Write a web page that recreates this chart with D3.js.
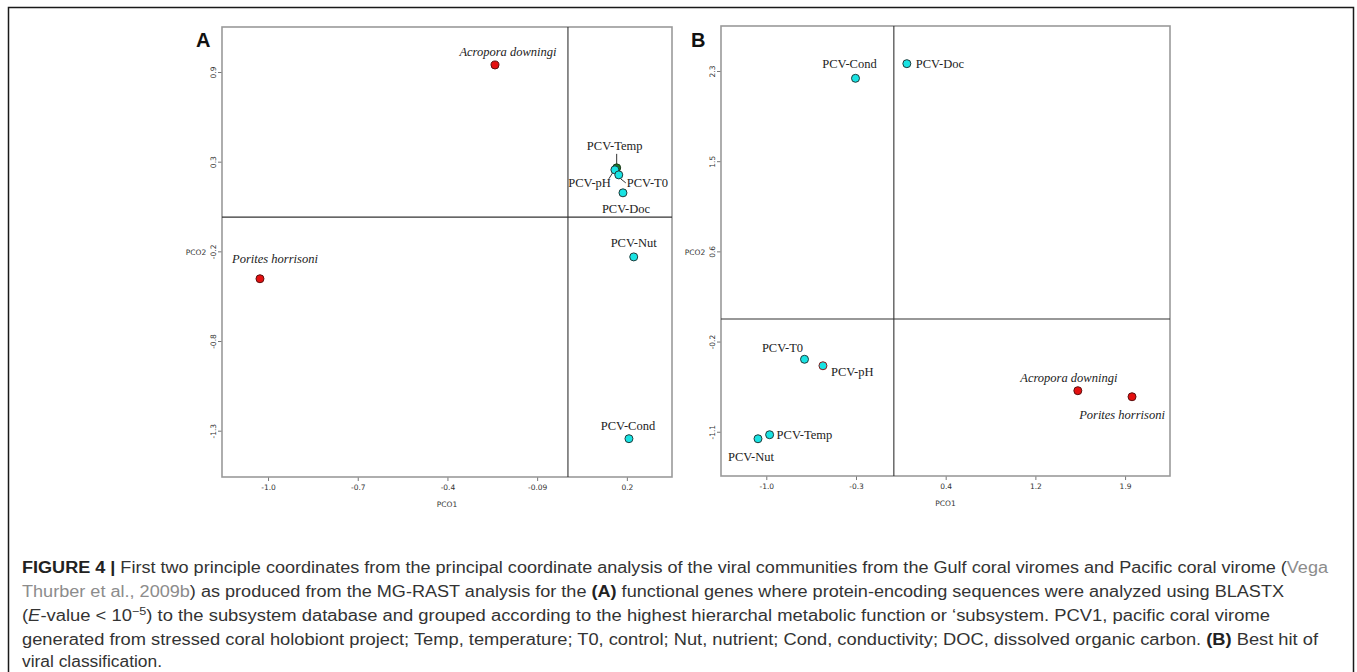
<!DOCTYPE html>
<html>
<head>
<meta charset="utf-8">
<script src="https://cdn.jsdelivr.net/npm/d3@7"></script>
<style>
  body { margin: 0; background: #fff; }
  svg { display: block; }
</style>
</head>
<body>
<script>
// ---- data ----
// panel A: functional genes
const aNames = ["Acropora downingi", "Porites horrisoni", "PCV-Temp", "PCV-pH", "PCV-T0", "PCV-Doc", "PCV-Nut", "PCV-Cond"];
const aGroup = ["coral", "coral", "temp", "pcv", "pcv", "pcv", "pcv", "pcv"];
const aPCO1 = [-0.241, -1.027, 0.166, 0.160, 0.173, 0.187, 0.223, 0.207];
const aPCO2 = [0.943, -0.368, 0.312, 0.300, 0.269, 0.159, -0.234, -1.349];
const aXTicks = [-1.0, -0.7, -0.4, -0.1, 0.2];
const aXTickLabels = ["-1.0", "-0.7", "-0.4", "-0.09", "0.2"];
const aYTicks = [0.9, 0.35, -0.2, -0.75, -1.3];
const aYTickLabels = ["0.9", "0.3", "-0.2", "-0.8", "-1.3"];

// panel B: best hit of viral classification
const bNames = ["PCV-Cond", "PCV-Doc", "PCV-T0", "PCV-pH", "PCV-Temp", "PCV-Nut", "Acropora downingi", "Porites horrisoni"];
const bGroup = ["pcv", "pcv", "pcv", "ph", "pcv", "pcv", "coral", "coral"];
const bPCO1 = [-0.279, 0.136, -0.691, -0.542, -0.973, -1.067, 1.518, 1.956];
const bPCO2 = [2.231, 2.369, -0.417, -0.478, -1.128, -1.166, -0.713, -0.770];
const bXTicks = [-1.0, -0.275, 0.45, 1.175, 1.9];
const bXTickLabels = ["-1.0", "-0.3", "0.4", "1.2", "1.9"];
const bYTicks = [2.3, 1.45, 0.6, -0.25, -1.1];
const bYTickLabels = ["2.3", "1.5", "0.6", "-0.2", "-1.1"];

// ---- styles / layout ----
const W = 1357, H = 672;
const fills = { coral: "#e41010", pcv: "#19e3e3", temp: "#1d7a24", ph: "#19e3e3" };
const strokes = { coral: "#5a1010", pcv: "#1f3b3b", temp: "#1c3a1c", ph: "#8a1a1a" };

// label offsets (px from the dot): [dx, dy, anchor]
const aLabelPos = {
  "Acropora downingi": [13, -9, "middle"],
  "Porites horrisoni": [15, -16, "middle"],
  "PCV-Temp": [-2, -18, "middle"],
  "PCV-pH": [-4, 17, "end"],
  "PCV-T0": [8, 12, "start"],
  "PCV-Doc": [3, 20, "middle"],
  "PCV-Nut": [0, -10, "middle"],
  "PCV-Cond": [-1, -9, "middle"]
};
const bLabelPos = {
  "PCV-Cond": [-6, -10, "middle"],
  "PCV-Doc": [9, 4, "start"],
  "PCV-T0": [-22, -7, "middle"],
  "PCV-pH": [8, 10, "start"],
  "PCV-Temp": [7, 4, "start"],
  "PCV-Nut": [-7, 22, "middle"],
  "Acropora downingi": [-9, -9, "middle"],
  "Porites horrisoni": [-10, 22, "middle"]
};
// leader lines in A, as [x1,y1,x2,y2] offsets from the dot
const aLeaders = {
  "PCV-Temp": [0, -14, 0, -2],
  "PCV-pH": [-6, 9, -1, 1],
  "PCV-T0": [2, 4, 7, 8]
};

const svg = d3.select('body').append('svg')
    .attr('width', W)
    .attr('height', H);

// outer figure frame
svg.append('path')
    .attr('d', `M8.5,${H + 5} V7.5 H1353.5 V${H + 5}`)
    .attr('fill', 'none')
    .attr('stroke', '#1a1a1a')
    .attr('stroke-width', 1.5);

function drawPanel(p) {
    const g = svg.append('g').attr('transform', `translate(${p.left}, ${p.top})`);
    const w = p.width, h = p.height;

    const x = d3.scaleLinear().domain(p.xDomain).range([0, w]);
    const y = d3.scaleLinear().domain(p.yDomain).range([h, 0]);

    // axes
    const xAxis = g.append('g')
        .attr('transform', `translate(0, ${h})`)
        .call(d3.axisBottom(x).tickValues(p.xTicks).tickFormat((d, i) => p.xTickLabels[i]).tickSize(4).tickPadding(4));
    const yAxis = g.append('g')
        .call(d3.axisLeft(y).tickValues(p.yTicks).tickFormat((d, i) => p.yTickLabels[i]).tickSize(4));
    [xAxis, yAxis].forEach(a => {
        a.select('.domain').remove();
        a.selectAll('line').attr('stroke', '#777');
        a.selectAll('text')
            .attr('fill', '#333')
            .style('font-family', 'DejaVu Sans, sans-serif')
            .style('font-size', '7.5px');
    });
    yAxis.selectAll('text')
        .attr('x', null).attr('dy', null)
        .attr('text-anchor', 'middle')
        .attr('transform', 'translate(-6, 0) rotate(-90)');

    // box
    g.append('rect')
        .attr('width', w).attr('height', h)
        .attr('fill', 'none')
        .attr('stroke', '#9a9a9a')
        .attr('stroke-width', 1.6);

    // origin lines
    g.append('line')
        .attr('x1', x(p.crossX)).attr('x2', x(p.crossX))
        .attr('y1', 0).attr('y2', h)
        .attr('stroke', '#333').attr('stroke-width', 1.1);
    g.append('line')
        .attr('x1', 0).attr('x2', w)
        .attr('y1', y(p.crossY)).attr('y2', y(p.crossY))
        .attr('stroke', '#333').attr('stroke-width', 1.1);

    // axis titles
    g.append('text')
        .attr('x', w / 2).attr('y', h + 30)
        .attr('text-anchor', 'middle')
        .style('font-family', 'DejaVu Sans, sans-serif').style('font-size', '7.5px')
        .attr('fill', '#333')
        .text('PCO1');
    g.append('text')
        .attr('x', -26).attr('y', h / 2 + 3 + p.pcoShift)
        .attr('text-anchor', 'middle')
        .style('font-family', 'DejaVu Sans, sans-serif').style('font-size', '7.5px')
        .attr('fill', '#333')
        .text('PCO2');

    // panel letter
    svg.append('text')
        .attr('x', p.letterX).attr('y', 47)
        .style('font-family', 'Liberation Sans, Arial, sans-serif')
        .style('font-weight', 'bold').style('font-size', '20px')
        .attr('fill', '#111')
        .text(p.letter);

    const pts = p.names.map((n, i) => ({ name: n, group: p.groups[i], px: p.pco1[i], py: p.pco2[i] }));

    // leader lines
    pts.filter(d => p.leaders && p.leaders[d.name]).forEach(d => {
        const l = p.leaders[d.name];
        g.append('line')
            .attr('x1', x(d.px) + l[0]).attr('y1', y(d.py) + l[1])
            .attr('x2', x(d.px) + l[2]).attr('y2', y(d.py) + l[3])
            .attr('stroke', '#333').attr('stroke-width', 1);
    });

    // points, drawn so the green Temp dot sits underneath in A
    g.selectAll('.pt')
        .data(pts)
        .enter()
        .append('circle')
        .attr('class', 'pt')
        .attr('cx', d => x(d.px))
        .attr('cy', d => y(d.py))
        .attr('r', 4)
        .attr('fill', d => fills[d.group])
        .attr('stroke', d => strokes[d.group])
        .attr('stroke-width', 1);

    g.selectAll('.lbl')
        .data(pts)
        .enter()
        .append('text')
        .attr('class', 'lbl')
        .attr('x', d => x(d.px) + p.labelPos[d.name][0])
        .attr('y', d => y(d.py) + p.labelPos[d.name][1])
        .attr('text-anchor', d => p.labelPos[d.name][2])
        .style('font-family', 'Liberation Serif, Times New Roman, serif')
        .style('font-size', '12.5px')
        .style('font-style', d => d.group === 'coral' ? 'italic' : 'normal')
        .attr('fill', '#222')
        .text(d => d.name);
}

drawPanel({
    letter: 'A', letterX: 196, left: 222, top: 27, width: 450, height: 450,
    xDomain: [-1.154, 0.351], yDomain: [-1.584, 1.176],
    xTicks: aXTicks, xTickLabels: aXTickLabels, yTicks: aYTicks, yTickLabels: aYTickLabels,
    crossX: 0.003, crossY: 0.01, pcoShift: 0,
    names: aNames, groups: aGroup, pco1: aPCO1, pco2: aPCO2,
    labelPos: aLabelPos, leaders: aLeaders
});

drawPanel({
    letter: 'B', letterX: 691, left: 721, top: 26, width: 449, height: 450,
    xDomain: [-1.366, 2.263], yDomain: [-1.517, 2.724],
    xTicks: bXTicks, xTickLabels: bXTickLabels, yTicks: bYTicks, yTickLabels: bYTickLabels,
    crossX: 0.031, crossY: -0.037, pcoShift: 1,
    names: bNames, groups: bGroup, pco1: bPCO1, pco2: bPCO2,
    labelPos: bLabelPos, leaders: null
});

// ---- caption ----
const captionLines = [
    [["FIGURE 4 | ", "b"], ["First two principle coordinates from the principal coordinate analysis of the viral communities from the Gulf coral viromes and Pacific coral virome (", ""], ["Vega", "link"]],
    [["Thurber et al., 2009b", "link"], [") as produced from the MG-RAST analysis for the ", ""], ["(A)", "b"], [" functional genes where protein-encoding sequences were analyzed using BLASTX", ""]],
    [["(", ""], ["E", "i"], ["-value < 10", ""], ["\u22125", "sup"], [") to the subsystem database and grouped according to the highest hierarchal metabolic function or \u2018subsystem. PCV1, pacific coral virome", "post"]],
    [["generated from stressed coral holobiont project; Temp, temperature; T0, control; Nut, nutrient; Cond, conductivity; DOC, dissolved organic carbon. ", ""], ["(B)", "b"], [" Best hit of", ""]],
    [["viral classification.", ""]]
];
const captionWidths = [1306, 1262, 1248, 1296, 140];
const captionY = [573, 597, 621, 645, 667];

captionLines.forEach((parts, li) => {
    const t = svg.append('text')
        .attr('x', 22).attr('y', captionY[li])
        .style('font-family', 'Liberation Sans, Arial, sans-serif')
        .style('font-size', '16px')
        .attr('fill', '#333')
        .attr('textLength', captionWidths[li])
        .attr('lengthAdjust', 'spacingAndGlyphs');
    parts.forEach(([s, k]) => {
        const ts = t.append('tspan').text(s);
        if (k === 'b') ts.style('font-weight', 'bold').attr('fill', '#222');
        if (k === 'i') ts.style('font-style', 'italic');
        if (k === 'link') ts.attr('fill', '#8c8c8c');
        if (k === 'sup') ts.attr('dy', -6).style('font-size', '11px');
        if (k === 'post') ts.attr('dy', 6);
    });
});
</script>
</body>
</html>
